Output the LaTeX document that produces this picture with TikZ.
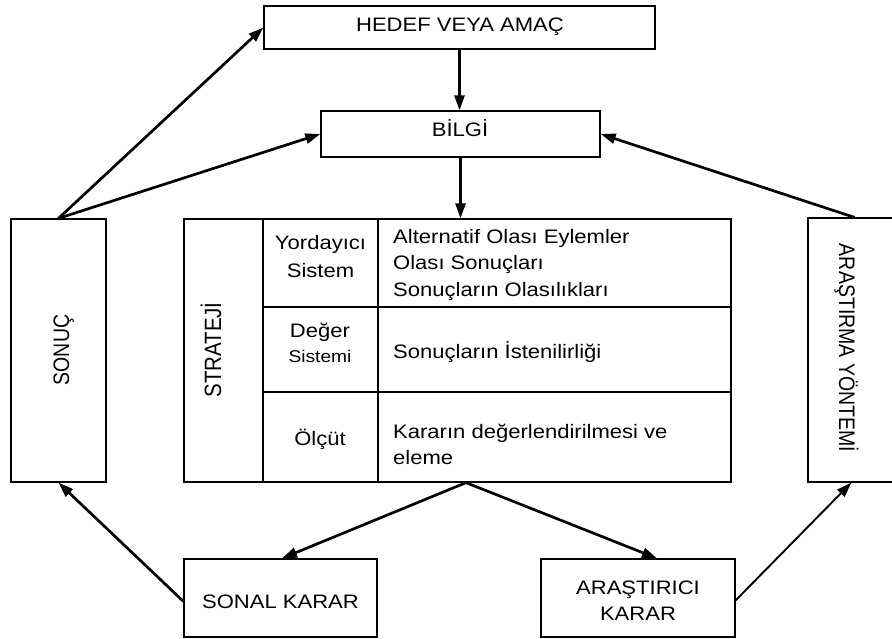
\documentclass[tikz,border=0pt]{standalone}
\usepackage{graphicx}
\usepackage{fontspec}
\setmainfont{Liberation Sans}[FakeStretch=1.13]
\newfontfamily\rotfont{Liberation Sans}
\usetikzlibrary{arrows.meta,calc}

\tikzset{
  box/.style={draw=black, line width=1.3pt, rectangle, inner sep=0pt},
  grid/.style={draw=black, line width=1.3pt},
  lbl/.style={inner sep=0pt, font=\fontsize{19.5}{26}\selectfont},
  small/.style={inner sep=0pt, font=\fontsize{17}{20}\selectfont},
  rotlbl/.style={inner sep=0pt, font=\rotfont\fontsize{19.5}{24}\selectfont},
  flow/.style={draw=black, line width=2.7pt, line cap=round,
    -{Triangle[length=15pt,width=10pt]}},
  thinflow/.style={flow, line width=1.9pt}
}
\newcommand{\vstretch}[1]{\scalebox{1}[1.15]{#1}}

\begin{document}
\begin{tikzpicture}[x=1pt,y=-1pt]
\useasboundingbox (0,0) rectangle (892,639);
\clip (0,0) rectangle (892,639);

% boxes
\node[box, minimum width=391pt, minimum height=43pt] (hedef) at (459.5,27.5) {};
\node[box, minimum width=279pt, minimum height=46pt] (bilgi) at (460.5,134) {};
\node[box, minimum width=95pt, minimum height=263pt] (sonuc) at (58.5,350.5) {};
\node[box, minimum width=100pt, minimum height=264pt] (arm) at (858,350) {};
\node[box, minimum width=547pt, minimum height=263pt] (strat) at (457.5,350.5) {};
\node[box, minimum width=193pt, minimum height=78pt] (sonal) at (280.5,598) {};
\node[box, minimum width=194pt, minimum height=78pt] (arast) at (638,598) {};

% strategy table grid
\draw[grid] (263,219) -- (263,482);
\draw[grid] (378,219) -- (378,482);
\draw[grid] (263,307) -- (731,307);
\draw[grid] (263,392) -- (731,392);

% box texts
\node[lbl, anchor=base] (hedeft) at (460,32) {HEDEF VEYA AMAÇ};
\node[lbl, anchor=base] (bilgit) at (460,137) {BİLGİ};
\node[lbl, anchor=base] (sonalt) at (280.5,608) {SONAL KARAR};
\node[lbl, anchor=base] (arastt1) at (638,594) {ARAŞTIRICI};
\node[lbl, anchor=base] (arastt2) at (638,620) {KARAR};
\node[rotlbl, anchor=base, rotate=90] (sonuct) at (69,350) {\vstretch{SONUÇ}};
\node[rotlbl, anchor=base, rotate=-90] (armt) at (839,348) {\vstretch{ARAŞTIRMA YÖNTEMİ}};
\node[rotlbl, anchor=base, rotate=90, font=\rotfont\fontsize{20.5}{24}\selectfont] (stratt) at (221,350) {\vstretch{STRATEJİ}};

% table texts
\node[lbl, anchor=base] (y1) at (320.5,250) {Yordayıcı};
\node[lbl, anchor=base] (y2) at (320.5,277) {Sistem};
\node[lbl, anchor=base west] (a1) at (393,244) {Alternatif Olası Eylemler};
\node[lbl, anchor=base west] (a2) at (393,270) {Olası Sonuçları};
\node[lbl, anchor=base west] (a3) at (393,296) {Sonuçların Olasılıkları};
\node[lbl, anchor=base] (d1) at (320,337) {Değer};
\node[small, anchor=base] (d2) at (320,362) {Sistemi};
\node[lbl, anchor=base west] (b1) at (393,358) {Sonuçların İstenilirliği};
\node[lbl, anchor=base] (o1) at (320,445) {Ölçüt};
\node[lbl, anchor=base west] (c1) at (393,438) {Kararın değerlendirilmesi ve};
\node[lbl, anchor=base west] (c2) at (393,464) {eleme};

% connectors
\draw[flow] (sonuc.north) -- (hedef.west);
\draw[flow] (sonuc.north) -- (bilgi.west);
\draw[flow] (hedef.south) -- (bilgi.north -| hedef.south);
\draw[flow] (bilgi.south) -- (bilgi.south |- strat.north);
\draw[flow] ($(arm.north west)+(47,0)$) -- (bilgi.east);
\draw[flow] ($(strat.south)+(8.5,0)$) -- ($(sonal.north)+(1.5,0)$);
\draw[flow] ($(strat.south)+(8.5,0)$) -- ($(arast.north)+(19,0)$);
\draw[flow] ($(sonal.north west)+(0,43)$) -- (sonuc.south);
\draw[thinflow] ($(arast.north east)+(0,42)$) -- ($(arm.south west)+(44,0)$);
\end{tikzpicture}
\end{document}
